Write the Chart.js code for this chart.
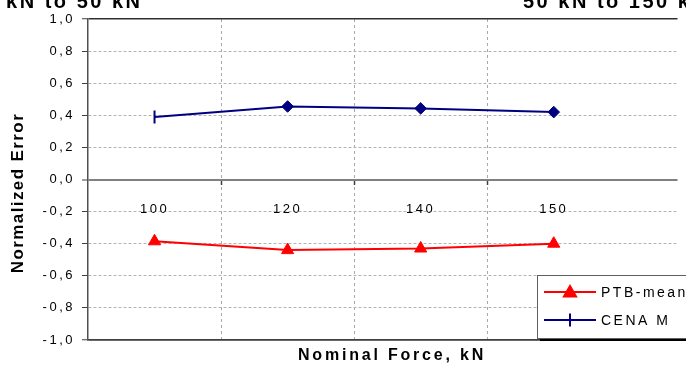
<!DOCTYPE html>
<html><head><meta charset="utf-8">
<script src="https://cdn.jsdelivr.net/npm/chart.js@4.4.0/dist/chart.umd.min.js"></script>
<style>html,body{margin:0;padding:0;background:#fff;overflow:hidden}#wrap{width:686px;height:366px;position:relative}</style>
</head><body><div id="wrap"><canvas id="c" width="686" height="366"></canvas></div>
<script>
const categories = ['100', '120', '140', '150'];
const ptbMean = [-0.385, -0.44, -0.43, -0.40];
const cenam = [0.39, 0.455, 0.443, 0.42];
const yTickValues = [-1, -0.8, -0.6, -0.4, -0.2, 0, 0.2, 0.4, 0.6, 0.8, 1];
const seriesNames = ['PTB-mean', 'CENA M'];
const panelTitles = ['5 kN to 50 kN', '50 kN to 150 kN'];
const xAxisTitle = 'Nominal Force, kN';
const yAxisTitle = 'Normalized Error';

const FONT = "'Liberation Sans', Arial, sans-serif";
Chart.defaults.font.family = FONT;
Chart.defaults.color = '#000';

const X_MIN = -0.5, X_MAX = 3.93;
const toXY = (arr) => arr.map((v, i) => ({ x: i, y: v }));

const spacingPlugin = {
  id: 'spacing',
  beforeDraw(chart) { chart.ctx.letterSpacing = '2.5px'; }
};

const textPlugin = {
  id: 'texts',
  afterDraw(chart) {
    const ctx = chart.ctx;
    ctx.save();
    ctx.fillStyle = '#000';
    // y title
    ctx.save();
    ctx.letterSpacing = '1.4px';
    ctx.font = "bold 17px " + FONT;
    ctx.textAlign = 'center';
    ctx.textBaseline = 'middle';
    ctx.translate(18, 193);
    ctx.rotate(-Math.PI / 2);
    ctx.fillText(yAxisTitle, 0, 0);
    ctx.restore();
    // x title
    ctx.letterSpacing = '2.8px';
    ctx.font = "bold 16px " + FONT;
    ctx.textAlign = 'center';
    ctx.textBaseline = 'middle';
    ctx.fillText(xAxisTitle, 392, 356);
    // panel titles (cut off at top)
    ctx.letterSpacing = '2.5px';
    ctx.font = "bold 20px " + FONT;
    ctx.textBaseline = 'alphabetic';
    ctx.textAlign = 'right';
    ctx.fillText(panelTitles[0], 142.5, 7.5);
    ctx.textAlign = 'left';
    ctx.fillText(panelTitles[1], 523, 7.5);

    // legend box
    const bx = 537, by = 275, bw = 170, bh = 63;
    ctx.fillStyle = '#000';
    ctx.fillRect(bx + 3, by + 3, bw, bh);
    ctx.fillStyle = '#fff';
    ctx.fillRect(bx, by, bw, bh);
    ctx.strokeStyle = '#606060';
    ctx.lineWidth = 1;
    ctx.strokeRect(bx + 0.5, by + 0.5, bw, bh);
    const ds = chart.data.datasets;
    const rows = [292, 320];
    ctx.letterSpacing = '2.5px';
    ctx.font = "14px " + FONT;
    ctx.textAlign = 'left';
    ctx.textBaseline = 'middle';
    ds.forEach((d, i) => {
      const y = rows[i];
      ctx.strokeStyle = d.borderColor;
      ctx.lineWidth = 2;
      ctx.beginPath(); ctx.moveTo(544, y); ctx.lineTo(596, y); ctx.stroke();
      ctx.fillStyle = d.borderColor;
      if (i === 0) {
        Chart.helpers.drawPoint(ctx, { pointStyle: 'triangle', radius: 7, borderWidth: 1, rotation: 0 }, 570, y + 1);
        ctx.fill();
      } else {
        ctx.beginPath(); ctx.moveTo(570, y - 6.5); ctx.lineTo(570, y + 6.5); ctx.stroke();
      }
      ctx.fillStyle = '#000';
      ctx.fillText(d.label, 601, y + 1);
    });
    ctx.restore();
  }
};

const gridDash = (c) => {
  if (!c.tick) return [];
  const v = c.tick.value;
  return (Math.abs(v) < 1e-9 || Math.abs(Math.abs(v) - 1) < 1e-9) ? [] : [3, 2];
};

new Chart(document.getElementById('c'), {
  type: 'line',
  data: {
    datasets: [
      {
        label: seriesNames[0],
        data: toXY(ptbMean),
        borderColor: '#ff0000',
        backgroundColor: '#ff0000',
        borderWidth: 2,
        pointStyle: 'triangle',
        pointRadius: 7,
        pointBorderWidth: 1,
        tension: 0
      },
      {
        label: seriesNames[1],
        data: toXY(cenam),
        borderColor: '#000080',
        backgroundColor: '#000080',
        borderWidth: 2,
        pointStyle: ['line', 'rectRot', 'rectRot', 'rectRot'],
        pointRotation: [90, 0, 0, 0],
        pointRadius: [6.5, 5.8, 5.8, 5.8],
        pointBorderWidth: [2, 1, 1, 1],
        tension: 0
      }
    ]
  },
  options: {
    responsive: false,
    animation: false,
    devicePixelRatio: 1,
    layout: { padding: { top: 19, left: 0, right: 0, bottom: 0 } },
    plugins: { legend: { display: false }, tooltip: { enabled: false } },
    scales: {
      x: {
        type: 'linear', position: 'bottom', min: X_MIN, max: X_MAX,
        afterBuildTicks: (s) => { s.ticks = [0.5, 1.5, 2.5].map(v => ({ value: v })); },
        afterFit: (s) => { s.height = 26; },
        ticks: { display: false },
        grid: { color: '#a8a8a8', lineWidth: 1, drawTicks: false },
        border: { color: '#404040', width: 1.5, dash: [3, 3] }
      },
      x2: {
        type: 'linear', position: { y: 0 }, min: X_MIN, max: X_MAX,
        afterBuildTicks: (s) => { s.ticks = categories.map((c, i) => ({ value: i })); },
        ticks: {
          callback: (v, i) => categories[i],
          font: { size: 13 }, color: '#000', padding: 22, maxRotation: 0, autoSkip: false
        },
        grid: { drawOnChartArea: false, drawTicks: false },
        border: { display: false }
      },
      x3: {
        type: 'linear', position: { y: 0 }, min: X_MIN, max: X_MAX,
        afterBuildTicks: (s) => { s.ticks = [0.5, 1.5, 2.5].map(v => ({ value: v })); },
        ticks: { display: false },
        grid: { drawOnChartArea: false, drawTicks: true, tickLength: 5, tickColor: '#404040', tickWidth: 1.5 },
        border: { display: false }
      },
      y: {
        type: 'linear', position: 'left', min: -1, max: 1,
        afterBuildTicks: (s) => { s.ticks = yTickValues.map(v => ({ value: v })); },
        afterFit: (s) => { s.width = 88; },
        ticks: {
          callback: (v) => v.toFixed(1).replace('.', ','),
          font: { size: 13 }, color: '#000', padding: 7
        },
        grid: {
          color: (c) => {
            const v = c.tick ? c.tick.value : 0.5;
            if (Math.abs(v) < 1e-9) return '#808080';
            if (Math.abs(Math.abs(v) - 1) < 1e-9) return '#303030';
            return '#b4b4b4';
          },
          lineWidth: (c) => {
            const v = c.tick ? c.tick.value : 0.5;
            if (Math.abs(v) < 1e-9) return 2;
            if (Math.abs(Math.abs(v) - 1) < 1e-9) return 1.5;
            return 1;
          },
          tickLength: 6, tickColor: '#404040', tickWidth: 1
        },
        border: { color: '#505050', width: 1.5, dash: gridDash }
      }
    }
  },
  plugins: [spacingPlugin, textPlugin]
});
</script>
</body></html>
